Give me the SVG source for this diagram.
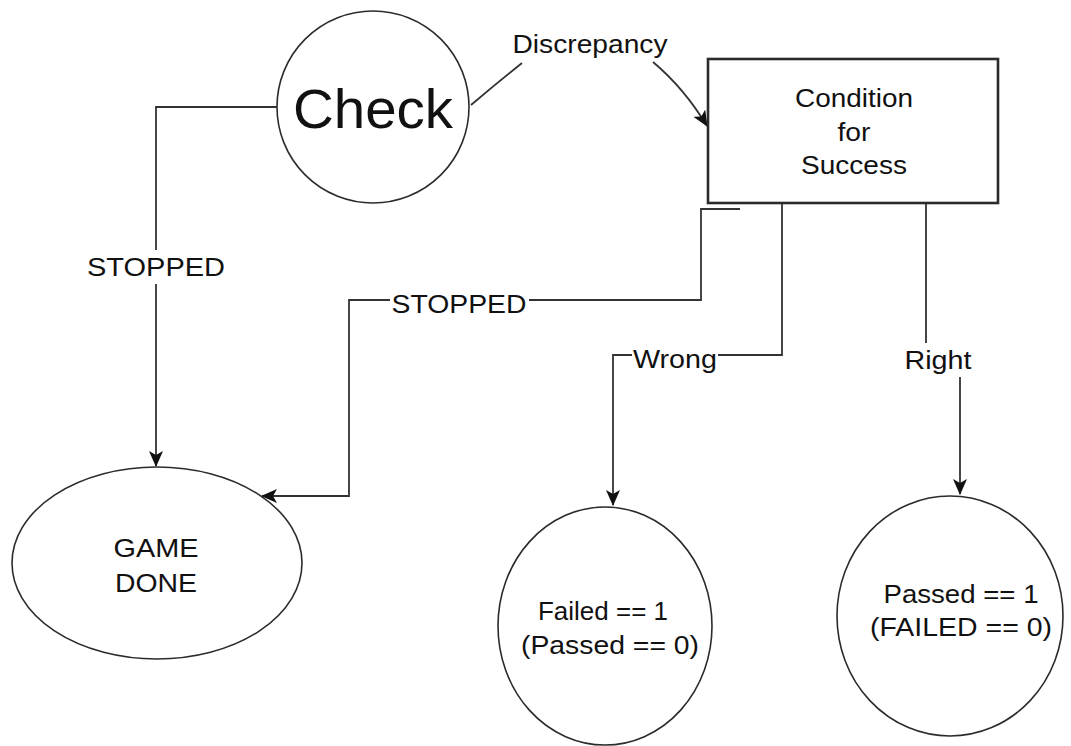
<svg xmlns="http://www.w3.org/2000/svg" width="1071" height="746" viewBox="0 0 1071 746">
  <style>
    .shape { fill: #ffffff; stroke: #2b2b2b; stroke-width: 1.6; }
    .box { fill: #ffffff; stroke: #2b2b2b; stroke-width: 2.6; }
    .edge { fill: none; stroke: #333333; stroke-width: 1.8; }
    .txt { font-family: "Liberation Sans", Arial, Helvetica, sans-serif; font-size: 25.5px; fill: #111111; text-anchor: middle; }
    .big { font-size: 56px; }
    .lblbg { fill: #ffffff; }
  </style>
  <defs>
    <marker id="arrow" viewBox="0 0 16 14" refX="15" refY="7" markerWidth="16" markerHeight="14" markerUnits="userSpaceOnUse" orient="auto">
      <path d="M0,0 L16,7 L0,14 L4,7 Z" fill="#111111"/>
    </marker>
  </defs>

  <rect width="1071" height="746" fill="#ffffff"/>

  <!-- transitions -->
  <g id="connectors">
    <!-- Check -> GAME DONE -->
    <path class="edge" d="M277,107 H156 V466" marker-end="url(#arrow)"/>
    <rect class="lblbg" x="84" y="250" width="144" height="34"/>
    <text class="txt" x="156" y="276" textLength="138" lengthAdjust="spacingAndGlyphs">STOPPED</text>

    <!-- Check -> Condition for Success -->
    <path class="edge" d="M471,105 Q497,83 522,63"/>
    <path class="edge" d="M653,62 Q684,88 707,126" marker-end="url(#arrow)"/>
    <text class="txt" x="590" y="53" textLength="155" lengthAdjust="spacingAndGlyphs">Discrepancy</text>

    <!-- Condition for Success -> GAME DONE -->
    <path class="edge" d="M740,209 H701 V300 H349 V496 H262" marker-end="url(#arrow)"/>
    <rect class="lblbg" x="390" y="287" width="139" height="32"/>
    <text class="txt" x="459" y="313" textLength="135" lengthAdjust="spacingAndGlyphs">STOPPED</text>

    <!-- Condition for Success -> Failed -->
    <path class="edge" d="M782,203 V355 H613 V505" marker-end="url(#arrow)"/>
    <rect class="lblbg" x="632" y="348" width="86" height="28"/>
    <text class="txt" x="675" y="368" textLength="84" lengthAdjust="spacingAndGlyphs">Wrong</text>

    <!-- Condition for Success -> Passed -->
    <path class="edge" d="M926,203 V360 H960 V494" marker-end="url(#arrow)"/>
    <rect class="lblbg" x="903" y="343" width="71" height="34"/>
    <text class="txt" x="938" y="369" textLength="67" lengthAdjust="spacingAndGlyphs">Right</text>
  </g>

  <g id="check">
    <circle class="shape" cx="373" cy="107" r="96"/>
    <text class="txt big" x="373" y="128" textLength="160" lengthAdjust="spacingAndGlyphs">Check</text>
  </g>

  <g id="condition">
    <rect class="box" x="708" y="59" width="290" height="144"/>
    <text class="txt" x="854" y="107" textLength="118" lengthAdjust="spacingAndGlyphs">Condition</text>
    <text class="txt" x="854" y="141" textLength="33" lengthAdjust="spacingAndGlyphs">for</text>
    <text class="txt" x="854" y="174" textLength="106" lengthAdjust="spacingAndGlyphs">Success</text>
  </g>

  <g id="game-done">
    <ellipse class="shape" cx="157" cy="563" rx="145" ry="96"/>
    <text class="txt" x="156" y="557" textLength="85" lengthAdjust="spacingAndGlyphs">GAME</text>
    <text class="txt" x="156" y="592" textLength="82" lengthAdjust="spacingAndGlyphs">DONE</text>
  </g>

  <g id="failed">
    <ellipse class="shape" cx="605" cy="626" rx="107" ry="119"/>
    <text class="txt" x="603" y="620" textLength="130" lengthAdjust="spacingAndGlyphs">Failed == 1</text>
    <text class="txt" x="610" y="654" textLength="178" lengthAdjust="spacingAndGlyphs">(Passed == 0)</text>
  </g>

  <g id="passed">
    <ellipse class="shape" cx="950" cy="616" rx="113" ry="120"/>
    <text class="txt" x="961" y="603" textLength="155" lengthAdjust="spacingAndGlyphs">Passed == 1</text>
    <text class="txt" x="961" y="636" textLength="182" lengthAdjust="spacingAndGlyphs">(FAILED == 0)</text>
  </g>
</svg>
